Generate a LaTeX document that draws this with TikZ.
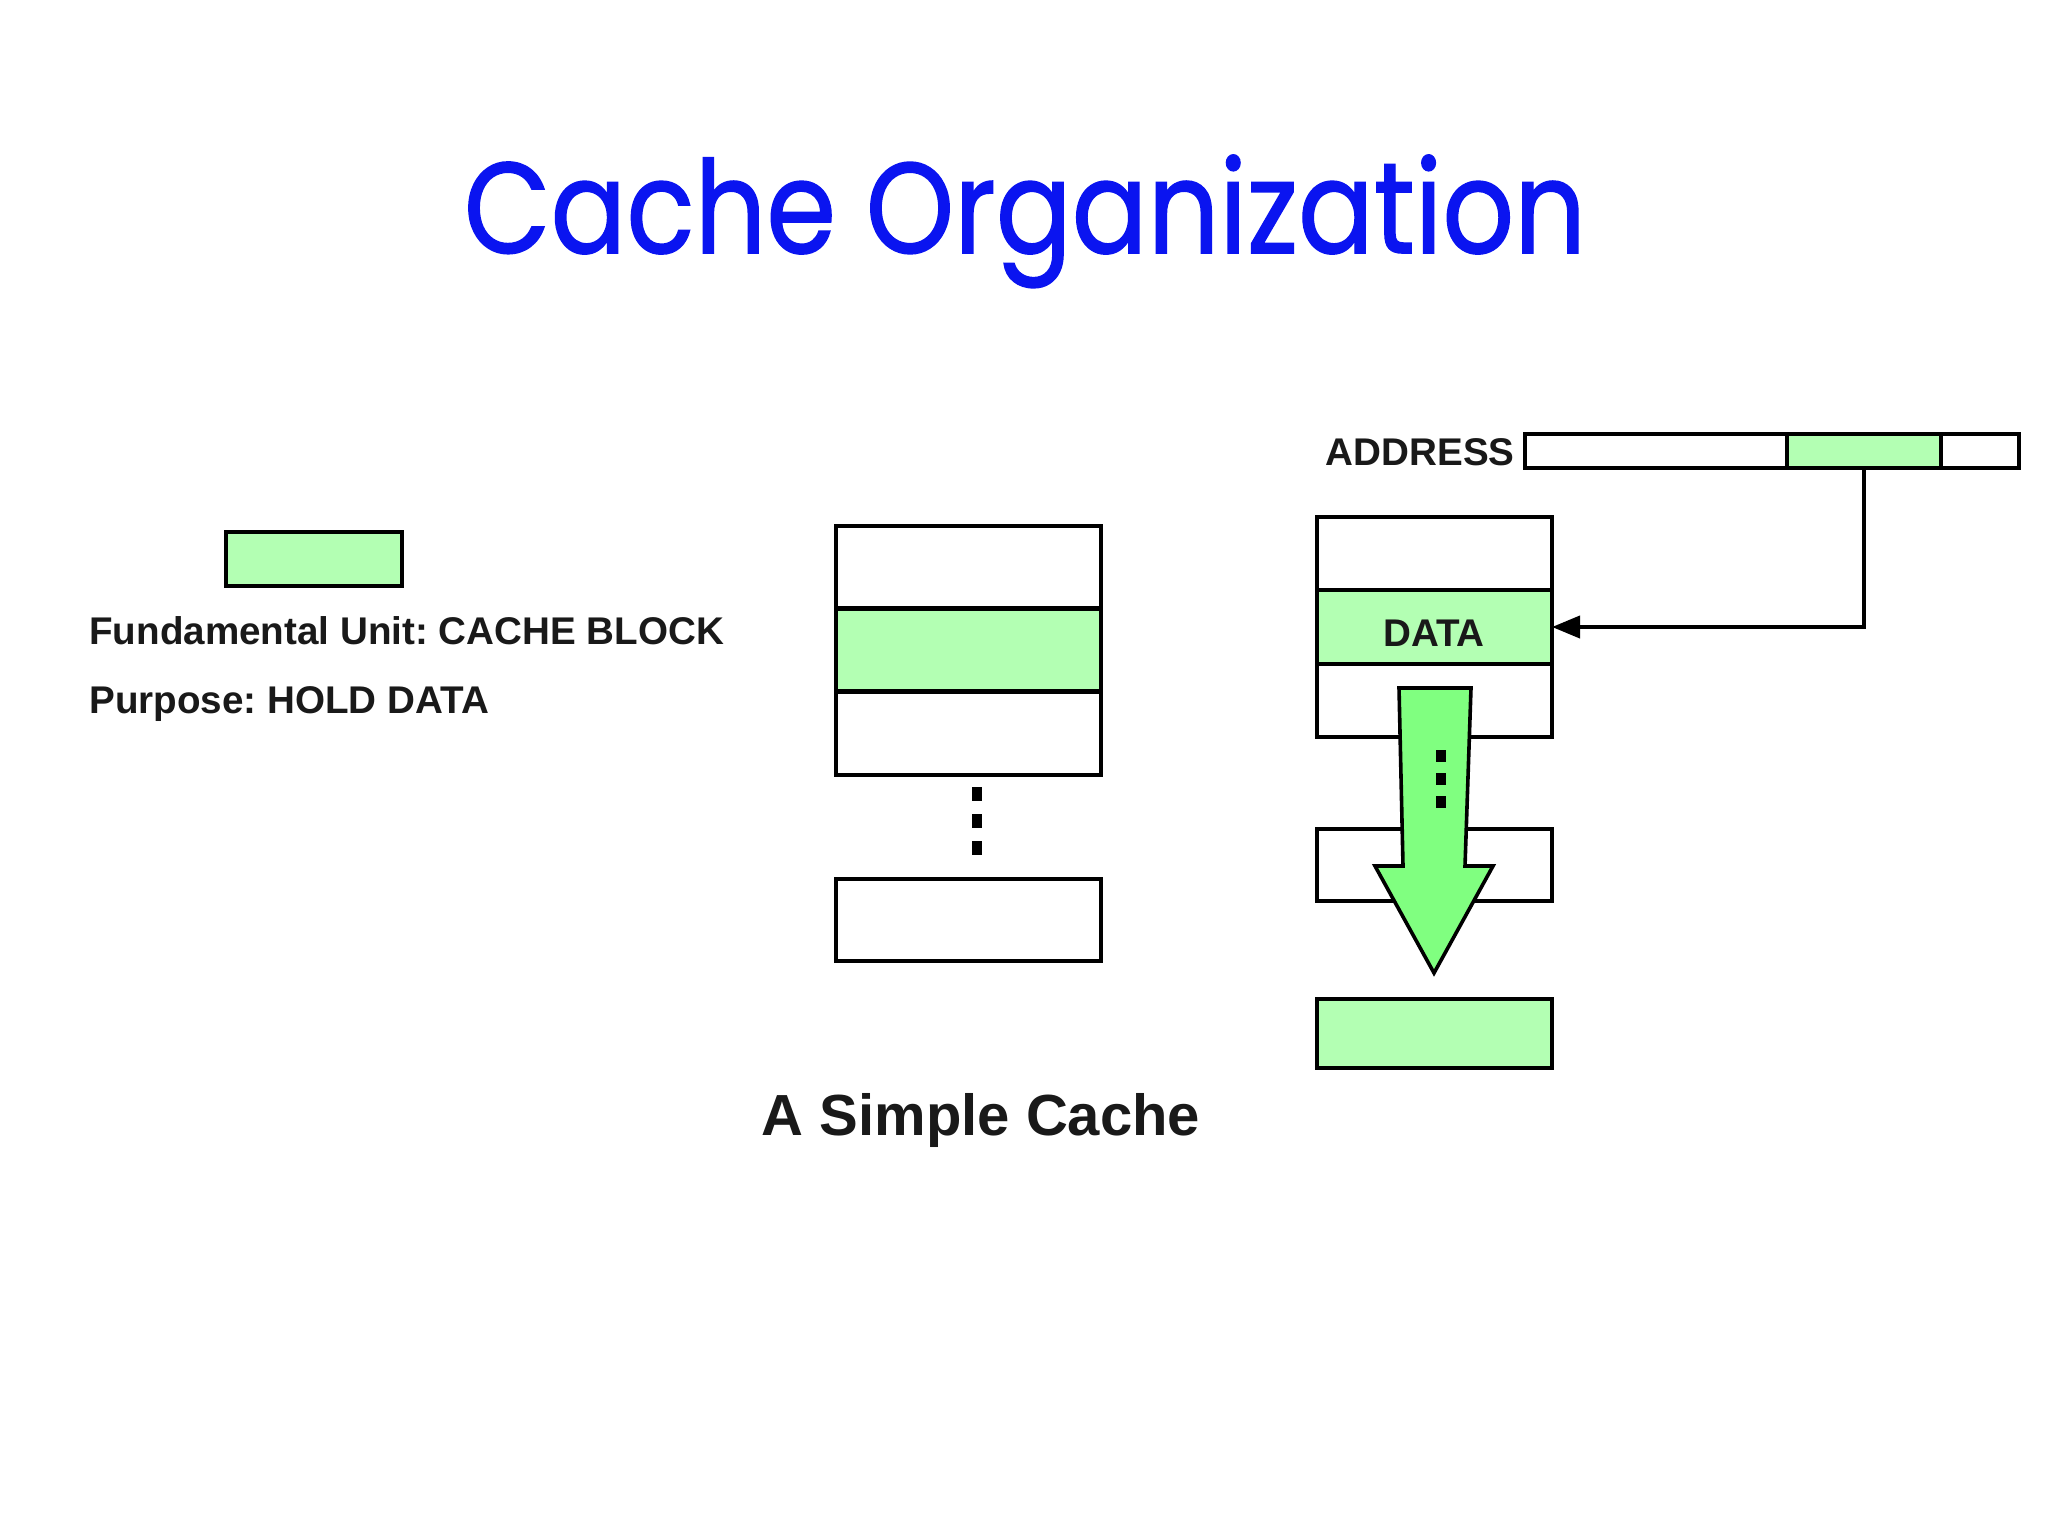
\documentclass[tikz,border=0pt]{standalone}
\usepackage{fontspec}
\setmainfont{Liberation Sans}
\newfontfamily\titlefont{Poppins}[FakeBold=1.2]
\usetikzlibrary{arrows.meta}
\definecolor{blockgreen}{HTML}{B3FFB3}
\definecolor{arrowgreen}{HTML}{80FF80}
\definecolor{titleblue}{HTML}{0A14F0}
\tikzset{
  blk/.style={draw=black, line width=2bp, inner sep=0pt, outer sep=0pt},
  grn/.style={blk, fill=blockgreen},
  wht/.style={blk, fill=white},
  lbl/.style={font=\fontsize{19.3bp}{22bp}\selectfont\bfseries, text=black!90, inner sep=0pt, anchor=base},
  dotbox/.style={fill=black, inner sep=0pt, minimum width=5bp, minimum height=7bp},
}
\frenchspacing
\begin{document}
\begin{tikzpicture}[x=0.5bp, y=-0.5bp]
\useasboundingbox[fill=white] (0,0) rectangle (2048,1536);
% title
\node[anchor=base, text=titleblue, inner sep=0pt] (title) at (1025,253)
  {\scalebox{1}[1.15]{\resizebox{561bp}{!}{\titlefont Cache Organization}}};
% legend
\node[grn, minimum width=88bp, minimum height=27bp] (legend) at (314,559) {};
\node[lbl, anchor=base west] (unit) at (89,644) {Fundamental Unit: CACHE BLOCK};
\node[lbl, anchor=base west] (purpose) at (89,713) {Purpose: HOLD DATA};
% middle cache
\node[wht, minimum width=132.5bp, minimum height=41.5bp] (m1) at (968.5,567.5) {};
\node[wht, minimum width=132.5bp, minimum height=41.5bp] (m3) at (968.5,733) {};
\node[grn, minimum width=132.5bp, minimum height=41.5bp] (m2) at (968.5,650) {};
\draw[line width=2.6bp] (m2.north west) -- (m2.north east);
\draw[line width=2.6bp] (m2.south west) -- (m2.south east);
\node[dotbox] (md1) at (977,794) {};
\node[dotbox] (md2) at (977,821) {};
\node[dotbox] (md3) at (977,848) {};
\node[wht, minimum width=132.5bp, minimum height=41bp] (mlast) at (968.5,920) {};
\node[font=\fontsize{29bp}{33bp}\selectfont\bfseries, text=black!90, inner sep=0pt, anchor=base] (caption) at (981,1135) {A Simple Cache};
% address
\node[wht, minimum width=131bp, minimum height=17bp] (addra) at (1656,451) {};
\node[wht, minimum width=39bp, minimum height=17bp] (addrc) at (1980,451) {};
\node[grn, minimum width=77bp, minimum height=17bp] (addrg) at (1864,451) {};
\node[lbl, anchor=base east] (addrlbl) at (1515,465) {ADDRESS};
% right cache
\node[wht, minimum width=117.5bp, minimum height=36.5bp] (r1) at (1434.5,553.5) {};
\node[wht, minimum width=117.5bp, minimum height=36.5bp] (r3) at (1434.5,700.5) {};
\node[grn, minimum width=117.5bp, minimum height=37bp] (data) at (1434.5,627) {};
\node[lbl] (datalbl) at (1434,646) {DATA};
\node[wht, minimum width=117.5bp, minimum height=36bp] (r4) at (1434.5,865) {};
\node[grn, minimum width=117.5bp, minimum height=34.5bp] (rlast) at (1434.5,1033.5) {};
% connector
\draw[line width=2bp, -{Triangle[length=14bp,width=11bp]}] (addrg.south) |- (data.east);
% big arrow
\draw[fill=arrowgreen, line width=1.8bp, line join=miter]
  (1399,688) -- (1471,688) -- (1465,866) -- (1493,866) -- (1434,973)
  -- (1375,866) -- (1403,866) -- cycle;
\node[dotbox, minimum width=5bp, minimum height=6bp] (ad1) at (1441,756) {};
\node[dotbox, minimum width=5bp, minimum height=6bp] (ad2) at (1441,779) {};
\node[dotbox, minimum width=5bp, minimum height=6bp] (ad3) at (1441,802) {};
\end{tikzpicture}
\end{document}
